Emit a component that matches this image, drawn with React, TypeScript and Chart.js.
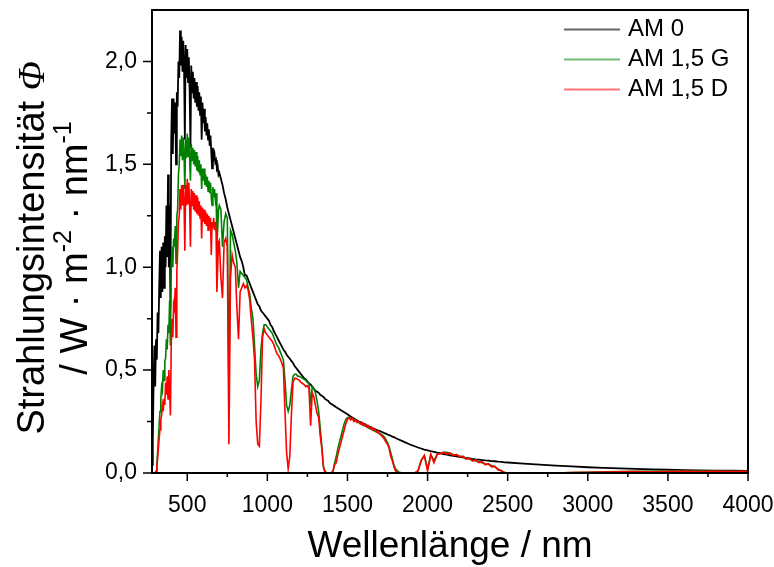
import React, { useEffect, useRef } from 'react';
import { Chart, registerables } from 'chart.js';

Chart.register(...registerables);

const FONT = "'Liberation Sans', Arial, Helvetica, sans-serif";

// Wavelength grid (nm): [start, end, step]
const WL_SEGMENTS: number[][] = [
  [280, 700, 5],
  [710, 1800, 10],
  [1820, 2500, 20],
  [2600, 4000, 100],
];
const WAVELENGTHS: number[] = [];
for (const [a, b, s] of WL_SEGMENTS) for (let w = a; w <= b; w += s) WAVELENGTHS.push(w);

// AM 0 (W m^-2 nm^-1)
const AM0: number[] = [
  // 280-700 step 5
  0.04, 0.15, 0.45, 0.62, 0.42, 0.65, 0.55, 0.78, 0.68, 0.90,
  1.08, 0.85, 1.10, 0.88, 1.12, 0.90, 1.15, 1.00, 1.30, 1.05,
  1.45, 1.00, 1.30, 0.80, 1.62, 1.82, 1.55, 1.82, 1.65, 1.80,
  1.50, 1.85, 1.78, 2.00, 1.92, 2.15, 1.98, 2.12, 1.95, 2.10,
  1.98, 1.62, 2.08, 1.92, 2.06, 1.90, 2.02, 1.85, 1.58, 1.98,
  1.85, 1.95, 1.82, 1.92, 1.80, 1.90, 1.78, 1.88, 1.76, 1.85,
  1.74, 1.83, 1.62, 1.80, 1.70, 1.77, 1.66, 1.73, 1.64, 1.70,
  1.62, 1.67, 1.59, 1.64, 1.56, 1.48, 1.58, 1.53, 1.55, 1.51,
  1.52, 1.48, 1.49, 1.45, 1.46,
  // 710-1800 step 10
  1.43, 1.40, 1.36, 1.33, 1.29, 1.26, 1.23, 1.20, 1.17, 1.14,
  1.11, 1.08, 1.05, 1.03, 1.00, 0.96, 0.96, 0.94, 0.92, 0.90,
  0.88, 0.86, 0.84, 0.82, 0.81, 0.79, 0.78, 0.77, 0.76, 0.75,
  0.74, 0.72, 0.71, 0.69, 0.675, 0.66, 0.645, 0.63, 0.615, 0.60,
  0.59, 0.575, 0.565, 0.555, 0.545, 0.535, 0.52, 0.51, 0.50, 0.49,
  0.48, 0.47, 0.46, 0.455, 0.445, 0.435, 0.43, 0.42, 0.41, 0.40,
  0.395, 0.39, 0.38, 0.375, 0.37, 0.36, 0.355, 0.35, 0.34, 0.335,
  0.33, 0.325, 0.32, 0.315, 0.31, 0.305, 0.30, 0.295, 0.29, 0.285,
  0.28, 0.275, 0.27, 0.265, 0.26, 0.255, 0.25, 0.247, 0.243, 0.24,
  0.236, 0.232, 0.228, 0.224, 0.22, 0.217, 0.213, 0.21, 0.207, 0.205,
  0.201, 0.198, 0.194, 0.191, 0.187, 0.184, 0.181, 0.177, 0.174, 0.17,
  // 1820-2500 step 20
  0.163, 0.156, 0.149, 0.142, 0.135, 0.13, 0.124, 0.119, 0.114, 0.11,
  0.106, 0.103, 0.099, 0.096, 0.092, 0.089, 0.086, 0.083, 0.081, 0.078,
  0.076, 0.073, 0.071, 0.068, 0.066, 0.065, 0.063, 0.061, 0.06, 0.058,
  0.057, 0.055, 0.054, 0.052, 0.051,
  // 2600-4000 step 100
  0.046, 0.041, 0.036, 0.032, 0.028, 0.025, 0.022, 0.02, 0.018, 0.016,
  0.014, 0.013, 0.012, 0.011, 0.01,
];

// AM 1,5 G
const AM15G: number[] = [
  0, 0, 0, 0, 0, 0.01, 0.04, 0.10, 0.17, 0.24,
  0.30, 0.36, 0.42, 0.40, 0.50, 0.45, 0.54, 0.56, 0.65, 0.60,
  0.72, 0.68, 0.84, 0.62, 1.02, 1.10, 1.00, 1.14, 1.10, 1.20,
  1.02, 1.25, 1.28, 1.45, 1.50, 1.62, 1.54, 1.64, 1.52, 1.63,
  1.55, 1.38, 1.62, 1.53, 1.65, 1.54, 1.63, 1.52, 1.42, 1.60,
  1.52, 1.58, 1.50, 1.57, 1.49, 1.56, 1.47, 1.54, 1.46, 1.52,
  1.45, 1.50, 1.38, 1.48, 1.42, 1.48, 1.40, 1.45, 1.39, 1.44,
  1.37, 1.42, 1.36, 1.41, 1.34, 1.30, 1.39, 1.34, 1.38, 1.33,
  1.36, 1.12, 1.18, 1.28, 1.30,
  1.28, 1.10, 1.22, 1.26, 1.24, 0.40, 1.18, 1.16, 1.12, 1.08,
  1.02, 0.90, 0.98, 0.97, 0.96, 0.95, 0.94, 0.90, 0.87, 0.80,
  0.75, 0.62, 0.48, 0.42, 0.45, 0.60, 0.68, 0.72, 0.72, 0.71,
  0.70, 0.69, 0.68, 0.66, 0.64, 0.62, 0.61, 0.59, 0.57, 0.55,
  0.45, 0.33, 0.30, 0.33, 0.40, 0.47, 0.48, 0.48, 0.47, 0.47,
  0.465, 0.46, 0.455, 0.45, 0.44, 0.435, 0.33, 0.42, 0.41, 0.39,
  0.35, 0.30, 0.22, 0.13, 0.03, 0.01, 0, 0, 0, 0,
  0.01, 0.05, 0.08, 0.12, 0.15, 0.18, 0.21, 0.24, 0.26, 0.27,
  0.27, 0.268, 0.264, 0.26, 0.255, 0.25, 0.245, 0.24, 0.236, 0.232,
  0.228, 0.224, 0.22, 0.216, 0.212, 0.208, 0.204, 0.2, 0.196, 0.192,
  0.188, 0.183, 0.175, 0.162, 0.148, 0.128, 0.10, 0.07, 0.04, 0.02,
  0.005, 0, 0, 0, 0, 0, 0.01, 0.06, 0.085, 0.02,
  0.09, 0.06, 0.09, 0.095, 0.10, 0.10, 0.095, 0.09, 0.087, 0.083,
  0.078, 0.073, 0.068, 0.063, 0.058, 0.054, 0.05, 0.045, 0.041, 0.036,
  0.03, 0.02, 0.01, 0.004, 0,
  0, 0, 0, 0.002, 0.004, 0.006, 0.007, 0.008, 0.008, 0.009,
  0.009, 0.009, 0.008, 0.008, 0.007,
];

// AM 1,5 D
const AM15D: number[] = [
  0, 0, 0, 0, 0, 0, 0.02, 0.07, 0.12, 0.17,
  0.21, 0.26, 0.28, 0.33, 0.30, 0.36, 0.33, 0.44, 0.38, 0.47,
  0.36, 0.50, 0.40, 0.28, 0.62, 0.75, 0.66, 0.82, 0.80, 0.90,
  0.66, 0.98, 1.08, 1.22, 1.25, 1.38, 1.28, 1.40, 1.30, 1.40,
  1.32, 1.08, 1.40, 1.30, 1.43, 1.31, 1.41, 1.29, 1.10, 1.38,
  1.30, 1.37, 1.28, 1.36, 1.27, 1.35, 1.26, 1.34, 1.25, 1.32,
  1.24, 1.30, 1.14, 1.29, 1.22, 1.28, 1.21, 1.27, 1.20, 1.26,
  1.18, 1.25, 1.19, 1.24, 1.06, 1.22, 1.19, 1.24, 1.18, 1.22,
  1.17, 0.88, 1.00, 1.12, 1.13,
  0.95, 0.85, 1.12, 1.14, 1.10, 0.14, 0.95, 1.06, 1.02, 1.00,
  0.80, 0.65, 0.88, 0.90, 0.92, 0.90, 0.91, 0.89, 0.84, 0.74,
  0.66, 0.55, 0.25, 0.14, 0.13, 0.35, 0.66, 0.70, 0.68, 0.67,
  0.66, 0.65, 0.64, 0.625, 0.60, 0.58, 0.57, 0.555, 0.535, 0.51,
  0.30, 0.10, 0.02, 0.08, 0.28, 0.44, 0.46, 0.46, 0.455, 0.45,
  0.44, 0.435, 0.43, 0.42, 0.425, 0.41, 0.23, 0.39, 0.37, 0.33,
  0.29, 0.27, 0.18, 0.12, 0.03, 0, 0, 0, 0, 0,
  0.01, 0.04, 0.05, 0.09, 0.12, 0.15, 0.18, 0.21, 0.24, 0.26,
  0.27, 0.258, 0.266, 0.25, 0.258, 0.245, 0.252, 0.238, 0.246, 0.232,
  0.238, 0.224, 0.23, 0.216, 0.222, 0.208, 0.214, 0.2, 0.205, 0.19,
  0.184, 0.175, 0.165, 0.15, 0.14, 0.12, 0.08, 0.06, 0.03, 0.01,
  0, 0, 0, 0, 0, 0, 0.01, 0.06, 0.085, 0.01,
  0.09, 0.05, 0.09, 0.095, 0.10, 0.092, 0.098, 0.085, 0.09, 0.078,
  0.082, 0.068, 0.072, 0.058, 0.064, 0.05, 0.055, 0.04, 0.045, 0.03,
  0.032, 0.015, 0.012, 0, 0,
  0, 0, 0, 0.002, 0.004, 0.005, 0.006, 0.007, 0.006, 0.007,
  0.008, 0.007, 0.008, 0.007, 0.008,
];

const SERIES_LABELS = ['AM 0', 'AM 1,5 G', 'AM 1,5 D'];
const SERIES_COLORS = ['#000000', '#008000', '#ff0000'];
const LEGEND_COLORS = ['rgba(0,0,0,0.6)', 'rgba(0,128,0,0.55)', 'rgba(255,0,0,0.55)'];

const X_TICKS = [500, 1000, 1500, 2000, 2500, 3000, 3500, 4000];
const X_MINOR = [750, 1250, 1750, 2250, 2750, 3250, 3750];
const Y_TICKS = [0, 0.5, 1, 1.5, 2];
const Y_MINOR = [0.25, 0.75, 1.25, 1.75];

const X_TITLE = 'Wellenlänge / nm';

const decorPlugin = {
  id: 'decor',
  afterDraw(chart: any) {
    const { ctx, chartArea: ca, scales } = chart;
    const xs = scales.x;
    const ys = scales.y;
    ctx.save();
    // frame
    ctx.strokeStyle = '#000';
    ctx.lineWidth = 2;
    ctx.strokeRect(ca.left, ca.top, ca.right - ca.left, ca.bottom - ca.top);
    // ticks
    ctx.lineWidth = 1.5;
    ctx.beginPath();
    for (const v of X_TICKS) {
      const p = xs.getPixelForValue(v);
      ctx.moveTo(p, ca.bottom);
      ctx.lineTo(p, ca.bottom + 8);
    }
    for (const v of X_MINOR) {
      const p = xs.getPixelForValue(v);
      ctx.moveTo(p, ca.bottom);
      ctx.lineTo(p, ca.bottom + 4);
    }
    for (const v of Y_TICKS) {
      const p = ys.getPixelForValue(v);
      ctx.moveTo(ca.left, p);
      ctx.lineTo(ca.left - 9, p);
    }
    for (const v of Y_MINOR) {
      const p = ys.getPixelForValue(v);
      ctx.moveTo(ca.left, p);
      ctx.lineTo(ca.left - 5, p);
    }
    ctx.stroke();

    // legend
    ctx.font = `24px ${FONT}`;
    ctx.textBaseline = 'middle';
    ctx.textAlign = 'left';
    SERIES_LABELS.forEach((lab, i) => {
      const y = ca.top + 19.5 + i * 30;
      ctx.strokeStyle = LEGEND_COLORS[i];
      ctx.lineWidth = 2;
      ctx.beginPath();
      ctx.moveTo(ca.right - 184, y);
      ctx.lineTo(ca.right - 128, y);
      ctx.stroke();
      ctx.fillStyle = '#000';
      ctx.fillText(lab, ca.right - 120, y);
    });

    // x title
    ctx.fillStyle = '#000';
    ctx.font = `37px ${FONT}`;
    ctx.textAlign = 'center';
    ctx.textBaseline = 'alphabetic';
    ctx.fillText(X_TITLE, (ca.left + ca.right) / 2, 557);

    // y title (two lines, rotated)
    const yc = 248;
    const drawParts = (parts: { t: string; f: string; dy: number }[], bx: number) => {
      ctx.save();
      ctx.translate(bx, yc);
      ctx.rotate(-Math.PI / 2);
      ctx.textAlign = 'left';
      ctx.textBaseline = 'alphabetic';
      let total = 0;
      for (const p of parts) {
        ctx.font = p.f;
        total += ctx.measureText(p.t).width;
      }
      let x = -total / 2;
      for (const p of parts) {
        ctx.font = p.f;
        ctx.fillText(p.t, x, p.dy);
        x += ctx.measureText(p.t).width;
      }
      ctx.restore();
    };
    const normal = `38px ${FONT}`;
    const sup = `25px ${FONT}`;
    drawParts(
      [
        { t: 'Strahlungsintensität ', f: normal, dy: 0 },
        { t: 'Φ', f: `italic 38px 'Liberation Serif', 'DejaVu Serif', serif`, dy: 0 },
      ],
      44
    );
    drawParts(
      [
        { t: '/ W · m', f: normal, dy: 0 },
        { t: '-2', f: sup, dy: -16 },
        { t: ' · nm', f: normal, dy: 0 },
        { t: '-1', f: sup, dy: -16 },
      ],
      87
    );
    ctx.restore();
  },
};

export default function App() {
  const ref = useRef<HTMLCanvasElement | null>(null);

  useEffect(() => {
    document.body.style.margin = '0';
    document.body.style.overflow = 'hidden';
    const canvas = ref.current;
    if (!canvas) return;
    const seriesValues = [AM0, AM15G, AM15D];
    const chart = new Chart(canvas, {
      type: 'line',
      data: {
        datasets: SERIES_LABELS.map((label, i) => ({
          label,
          data: WAVELENGTHS.map((w, k) => ({ x: w, y: seriesValues[i][k] })),
          borderColor: SERIES_COLORS[i],
          backgroundColor: SERIES_COLORS[i],
          borderWidth: i === 0 ? 1.8 : 1.6,
          pointRadius: 0,
          tension: 0,
          fill: false,
          order: 3 - i,
        })),
      },
      options: {
        responsive: false,
        animation: false,
        devicePixelRatio: 1,
        layout: { padding: { top: 10, right: 26, left: 0, bottom: 0 } },
        plugins: {
          legend: { display: false },
          tooltip: { enabled: false },
        },
        scales: {
          x: {
            type: 'linear',
            min: 280,
            max: 4000,
            grid: { display: false, drawTicks: false },
            border: { display: false },
            afterBuildTicks: (s: any) => {
              s.ticks = X_TICKS.map((v) => ({ value: v }));
            },
            afterFit: (s: any) => {
              s.height = 94;
              s.paddingLeft = 0;
              s.paddingRight = 0;
            },
            ticks: {
              autoSkip: false,
              maxRotation: 0,
              padding: 19,
              color: '#000',
              font: { family: FONT, size: 23 },
              callback: (v: any) => String(v),
            },
          },
          y: {
            type: 'linear',
            min: 0,
            max: 2.25,
            grid: { display: false, drawTicks: false },
            border: { display: false },
            afterBuildTicks: (s: any) => {
              s.ticks = Y_TICKS.map((v) => ({ value: v }));
            },
            afterFit: (s: any) => {
              s.width = 152;
              s.paddingTop = 0;
              s.paddingBottom = 0;
            },
            ticks: {
              padding: 15,
              color: '#000',
              font: { family: FONT, size: 23 },
              callback: (v: any) => Number(v).toFixed(1).replace('.', ','),
            },
          },
        },
      },
      plugins: [decorPlugin],
    } as any);
    return () => chart.destroy();
  }, []);

  return (
    <div style={{ width: 774, height: 567 }}>
      <canvas ref={ref} width={774} height={567} style={{ display: 'block', width: 774, height: 567 }} />
    </div>
  );
}
